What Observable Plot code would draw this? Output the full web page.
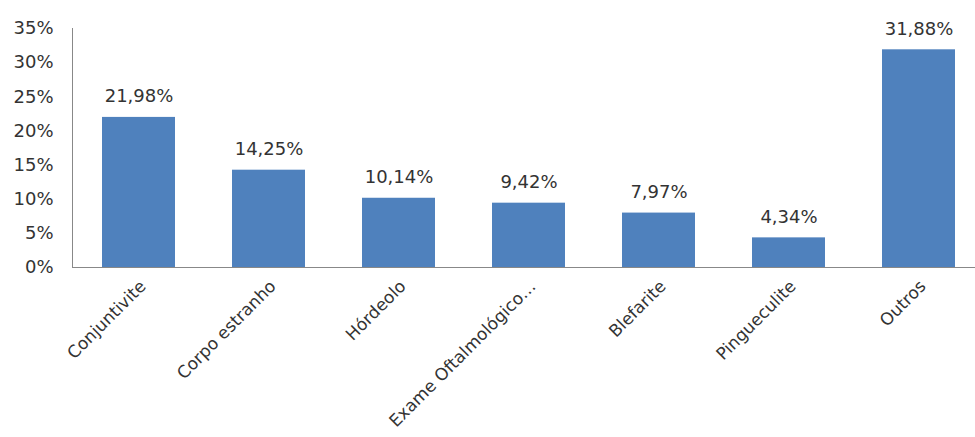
<!DOCTYPE html>
<html>
<head>
<meta charset="utf-8">
<script src="https://cdn.jsdelivr.net/npm/d3@7"></script>
<script src="https://cdn.jsdelivr.net/npm/@observablehq/plot@0.6"></script>
<style>
  body { margin: 0; background: #fff; }
</style>
</head>
<body>
<div id="chart"></div>
<script>
const categories = ["Conjuntivite", "Corpo estranho", "Hórdeolo", "Exame Oftalmológico…", "Blefarite", "Pingueculite", "Outros"];
const values = [21.98, 14.25, 10.14, 9.42, 7.97, 4.34, 31.88];
const valueLabels = ["21,98%", "14,25%", "10,14%", "9,42%", "7,97%", "4,34%", "31,88%"];
const yTicks = [0, 5, 10, 15, 20, 25, 30, 35];

const data = categories.map((c, i) => ({cat: c, value: values[i], label: valueLabels[i]}));

const chart = Plot.plot({
  width: 975,
  height: 437,
  marginLeft: 72,
  marginRight: 0,
  marginTop: 28,
  marginBottom: 170,
  style: {fontFamily: "DejaVu Sans, sans-serif", background: "#fff"},
  x: {domain: categories, range: [72, 984], paddingInner: 0.44, paddingOuter: 0.22, label: null},
  y: {domain: [0, 35], label: null},
  marks: [
    Plot.barY(data, {x: "cat", y: "value", fill: "#4F81BD"}),
    Plot.text(data, {x: "cat", y: "value", text: "label", dy: -21, fontSize: 18, fill: "#333"}),
    Plot.axisY({ticks: yTicks, tickSize: 0, tickPadding: 19, tickFormat: d => d + "%", fontSize: 18, fill: "#333", label: null}),
    Plot.axisX({tickSize: 0, tickRotate: -45, tickPadding: 16, dx: 4, fontSize: 17, fill: "#333", label: null, textAnchor: "end"}),
    Plot.frame({anchor: "left", stroke: "#888"}),
    Plot.ruleY([0], {stroke: "#888"})
  ]
});
document.getElementById("chart").append(chart);
</script>
</body>
</html>
